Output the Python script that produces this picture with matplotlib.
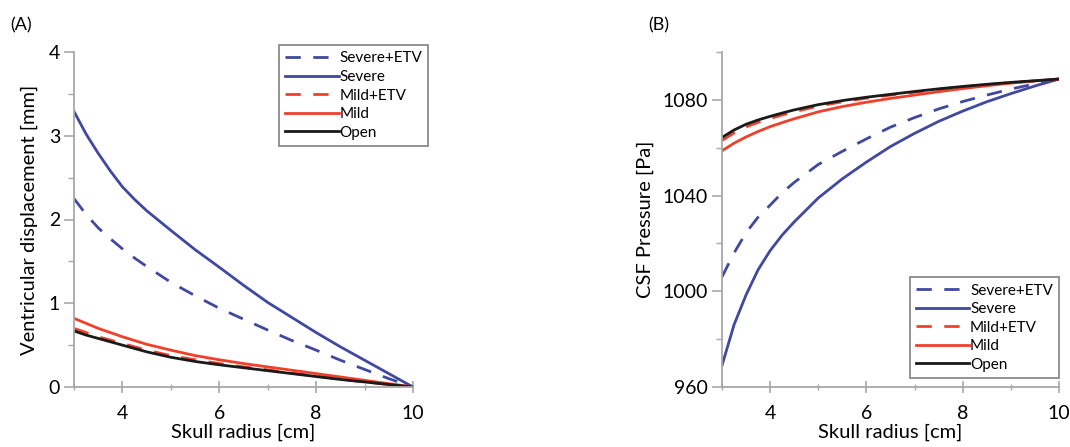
import matplotlib
matplotlib.use("Agg")
import matplotlib.pyplot as plt
from matplotlib.ticker import MultipleLocator

plt.rcParams['font.family'] = ['Lato', 'DejaVu Sans']

# ---------------- data ----------------
x_pts = [3, 3.25, 3.5, 3.75, 4, 4.25, 4.5, 5, 5.5, 6, 6.5, 7, 7.5, 8, 8.5, 9, 9.5, 10]

# Panel A: ventricular displacement [mm]
disp_severe_etv = [2.25, 2.06, 1.90, 1.77, 1.65, 1.54, 1.44, 1.25, 1.09, 0.94, 0.81, 0.68, 0.555, 0.44, 0.32, 0.21, 0.10, 0.0]
disp_severe     = [3.29, 3.02, 2.79, 2.58, 2.39, 2.24, 2.105, 1.87, 1.64, 1.43, 1.215, 1.01, 0.83, 0.65, 0.48, 0.32, 0.16, 0.0]
disp_mild_etv   = [0.70, 0.65, 0.60, 0.56, 0.52, 0.48, 0.44, 0.375, 0.325, 0.28, 0.24, 0.205, 0.165, 0.13, 0.095, 0.06, 0.03, 0.0]
disp_mild       = [0.82, 0.76, 0.70, 0.65, 0.60, 0.555, 0.51, 0.44, 0.375, 0.325, 0.28, 0.24, 0.20, 0.16, 0.12, 0.08, 0.04, 0.0]
disp_open       = [0.67, 0.62, 0.58, 0.54, 0.50, 0.46, 0.42, 0.355, 0.305, 0.265, 0.23, 0.195, 0.16, 0.125, 0.09, 0.06, 0.03, 0.0]

# Panel B: CSF pressure [Pa]
p_severe_etv = [1006, 1016, 1024.5, 1031, 1036, 1041.2, 1045.5, 1053, 1058.5, 1063.7, 1068.6, 1072.6, 1076.2, 1079.3, 1082, 1084.5, 1086.7, 1088.7]
p_severe     = [969, 986, 998.5, 1009, 1017, 1023.5, 1029, 1039, 1047, 1054, 1060.5, 1066, 1071, 1075.3, 1079.2, 1082.6, 1085.8, 1088.7]
p_mild_etv   = [1063, 1066.2, 1068.7, 1070.6, 1072.2, 1073.7, 1075, 1077.4, 1079.2, 1080.7, 1082, 1083.2, 1084.4, 1085.4, 1086.3, 1087.2, 1087.9, 1088.7]
p_mild       = [1058.7, 1061.9, 1064.5, 1066.8, 1068.8, 1070.5, 1072.1, 1075, 1077.2, 1079, 1080.6, 1082, 1083.4, 1084.7, 1085.9, 1087, 1087.9, 1088.7]
p_open       = [1064.3, 1067.4, 1069.8, 1071.6, 1073.1, 1074.5, 1075.8, 1078, 1079.7, 1081.1, 1082.3, 1083.5, 1084.6, 1085.6, 1086.5, 1087.3, 1088, 1088.7]

labels = ['Severe+ETV', 'Severe', 'Mild+ETV', 'Mild', 'Open']

BLUE = '#4148a0'
RED = '#f0402c'
BLACK = '#1a1a1a'
GRAY = '#a8a8a8'

DASH = (0, (5.5, 4.5))
styles = [
    dict(color=BLUE, ls=DASH),
    dict(color=BLUE, ls='-'),
    dict(color=RED, ls=DASH),
    dict(color=RED, ls='-'),
    dict(color=BLACK, ls='-'),
]

fig = plt.figure(figsize=(10.7, 4.47), dpi=100)
axA = fig.add_axes([74/1070, 1-387/447, (413-74)/1070, (387-52)/447])
axB = fig.add_axes([722/1070, 1-387/447, (1059-722)/1070, (387-52)/447])

TICK_FS = 14
LABEL_FS = 14.5


def style_axes(ax):
    for s in ['top', 'right']:
        ax.spines[s].set_visible(False)
    for s in ['left', 'bottom']:
        ax.spines[s].set_color(GRAY)
        ax.spines[s].set_linewidth(1.3)
    ax.tick_params(axis='y', which='major', direction='out', length=7, width=1.2,
                   color=GRAY, labelsize=TICK_FS, pad=3)
    ax.tick_params(axis='y', which='minor', direction='out', length=4, width=1.0, color=GRAY)
    ax.tick_params(axis='x', which='major', direction='inout', length=8, width=1.2,
                   color=GRAY, labelsize=TICK_FS, pad=9)
    ax.tick_params(axis='x', which='minor', direction='inout', length=5, width=1.0, color=GRAY)
    ax.set_xlim(3, 10)
    ax.xaxis.set_major_locator(MultipleLocator(2))
    ax.xaxis.set_minor_locator(MultipleLocator(1))
    ax.set_xlabel('Skull radius [cm]', fontsize=LABEL_FS, labelpad=1)


seriesA = [disp_severe_etv, disp_severe, disp_mild_etv, disp_mild, disp_open]
seriesB = [p_severe_etv, p_severe, p_mild_etv, p_mild, p_open]

for ys, lab, st in zip(seriesA, labels, styles):
    axA.plot(x_pts, ys, label=lab, lw=2.0, color=st['color'], linestyle=st['ls'])
for ys, lab, st in zip(seriesB, labels, styles):
    axB.plot(x_pts, ys, label=lab, lw=2.0, color=st['color'], linestyle=st['ls'])

style_axes(axA)
style_axes(axB)

axA.set_ylim(0, 4)
axA.yaxis.set_major_locator(MultipleLocator(1))
axA.yaxis.set_minor_locator(MultipleLocator(0.5))
axA.set_ylabel('Ventricular displacement [mm]', fontsize=LABEL_FS, labelpad=8)

axB.set_ylim(960, 1100)
axB.set_yticks([960, 1000, 1040, 1080])
axB.yaxis.set_minor_locator(MultipleLocator(20))
axB.set_ylabel('CSF Pressure [Pa]', fontsize=LABEL_FS, labelpad=6)

leg_kw = dict(fontsize=11, handlelength=3.5, handletextpad=0.05, labelspacing=0.3,
              borderpad=0.4, borderaxespad=0, fancybox=False, framealpha=1, edgecolor='#8a8a8a')
legA = axA.legend(loc='upper right', bbox_to_anchor=(1.045, 1.02), **leg_kw)
legB = axB.legend(loc='lower right', bbox_to_anchor=(1.0, 0.027), **leg_kw)
for leg in (legA, legB):
    leg.get_frame().set_linewidth(1.3)

fig.text(10/1070, 1-25/447, '(A)', fontsize=13, va='center', ha='left')
fig.text(648/1070, 1-25/447, '(B)', fontsize=13, va='center', ha='left')

fig.savefig('out.png', dpi=100)
